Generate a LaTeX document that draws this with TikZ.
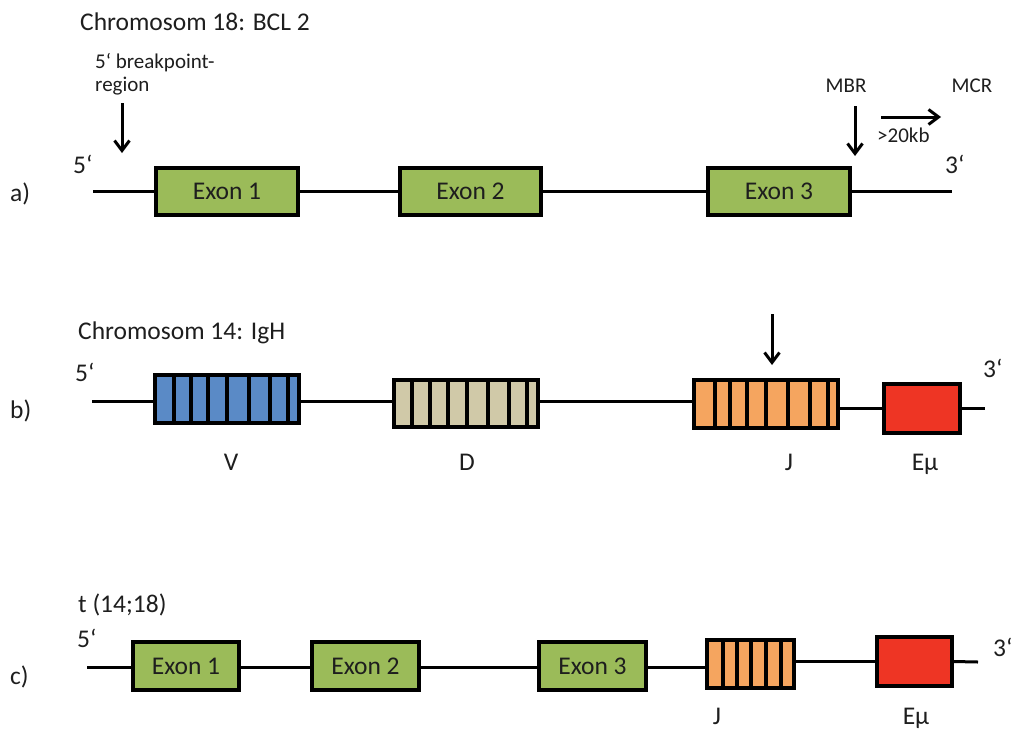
\documentclass[tikz,border=0pt]{standalone}
\usepackage{fontspec}
\setmainfont{Carlito}
\usetikzlibrary{arrows.meta}
\definecolor{exongreen}{HTML}{9BBB59}
\definecolor{vblue}{HTML}{5A8AC6}
\definecolor{dtan}{HTML}{D0C9A8}
\definecolor{jorange}{HTML}{F5A55F}
\definecolor{emred}{HTML}{EE3524}
\definecolor{txt}{HTML}{1E1E1E}
\tikzset{
  box/.style={draw=black, line width=3.4pt, rectangle, inner sep=0pt, font=\fontsize{25.5}{27}\selectfont, text=txt},
  exon/.style={box, fill=exongreen, minimum height=47},
  chrline/.style={line width=3pt, black},
  stripe/.style={line width=3.2pt, black},
  bigtext/.style={font=\fontsize{25.5}{27}\selectfont, text=txt, inner sep=0pt},
  smalltext/.style={font=\fontsize{21}{23}\selectfont, text=txt, inner sep=0pt},
  downarrow/.style={line width=3pt, -{Straight Barb[length=10pt,width=15pt,line width=3pt]}},
}
\begin{document}
\begin{tikzpicture}[x=1pt,y=-1pt]
\useasboundingbox (0,0) rectangle (1014,729);

% ---------- row a ----------
\node[bigtext, anchor=base west] (titleA) at (80,30) {Chromosom 18: BCL 2};
\node[smalltext, anchor=base west] (bp1) at (95,68) {5‘ breakpoint-};
\node[smalltext, anchor=base west] (bp2) at (95,91) {region};
\node[bigtext, anchor=base west] (la) at (10,201) {a)};
\node[bigtext, anchor=base west] (a5) at (73,173) {5‘};
\node[bigtext, anchor=base west] (a3p) at (945,173) {3‘};
\node[smalltext, anchor=base] (mbr) at (846,92) {MBR};
\node[smalltext, anchor=base] (mcr) at (972,92) {MCR};
\node[smalltext, anchor=base west] (kb) at (877,142) {>20kb};

\node[exon, minimum width=142] (a1) at (227,191.5) {Exon 1};
\node[exon, minimum width=141] (a2) at (470.5,191.5) {Exon 2};
\node[exon, minimum width=142] (a3) at (779,191.5) {Exon 3};
\coordinate (aS) at (93,191.5);
\coordinate (aE) at (952,191.5);
\draw[chrline] (aS) -- (a1.west);
\draw[chrline] (a1.east) -- (a2.west);
\draw[chrline] (a2.east) -- (a3.west);
\draw[chrline] (a3.east) -- (aE);

\coordinate (bpTop) at (122,103);
\coordinate (bpTip) at (122,153);
\draw[downarrow] (bpTop) -- (bpTip);
\coordinate (mbrTop) at (855,106);
\coordinate (mbrTip) at (855,156);
\draw[downarrow] (mbrTop) -- (mbrTip);
\coordinate (kbS) at (881,117);
\coordinate (kbE) at (941,117);
\draw[downarrow] (kbS) -- (kbE);

% ---------- row b ----------
\node[bigtext, anchor=base west] (titleB) at (78,339) {Chromosom 14: IgH};
\node[bigtext, anchor=base west] (lb) at (10,418) {b)};
\node[bigtext, anchor=base west] (b5) at (75,381) {5‘};
\node[bigtext, anchor=base west] (b3p) at (983,377) {3‘};

\node[box, fill=vblue, minimum width=144, minimum height=48] (V) at (227,399) {};
\node[box, fill=dtan, minimum width=144, minimum height=47] (D) at (466,403.5) {};
\node[box, fill=jorange, minimum width=144, minimum height=48] (J) at (766,404) {};
\node[box, fill=emred, minimum width=76, minimum height=49] (Em) at (922,408.5) {};
\foreach \x in {174,191,208,227,249,270,288} \draw[stripe] (\x,376) -- (\x,424);
\foreach \x in {412,430,448,467,488,509,527} \draw[stripe] (\x,381) -- (\x,428);
\foreach \x in {715,730,747,766,788,810,828} \draw[stripe] (\x,381) -- (\x,428);
\coordinate (bS) at (92,401);
\coordinate (bE) at (985,408.5);
\draw[chrline] (bS) -- (V.west |- bS);
\draw[chrline] (V.east |- bS) -- (D.west |- bS);
\draw[chrline] (D.east |- bS) -- (J.west |- bS);
\draw[chrline] (J.east |- Em.west) -- (Em.west);
\draw[chrline] (Em.east) -- (bE);

\node[bigtext, anchor=base] (lV) at (231,470) {V};
\node[bigtext, anchor=base] (lD) at (467,470) {D};
\node[bigtext, anchor=base] (lJ) at (789,470) {J};
\node[bigtext, anchor=base] (lEm) at (925,470) {Eµ};

\coordinate (jTop) at (772,314);
\coordinate (jTip) at (772,365);
\draw[downarrow] (jTop) -- (jTip);

% ---------- row c ----------
\node[bigtext, anchor=base west] (titleC) at (78,612) {t (14;18)};
\node[bigtext, anchor=base west] (lc) at (10,684) {c)};
\node[bigtext, anchor=base west] (c5) at (77,647) {5‘};
\node[bigtext, anchor=base west] (c3p) at (993,656) {3‘};

\node[exon, minimum width=106, minimum height=48] (c1) at (186,666) {Exon 1};
\node[exon, minimum width=107, minimum height=48] (c2) at (365.5,666) {Exon 2};
\node[exon, minimum width=107, minimum height=48] (c3) at (592.5,666) {Exon 3};
\node[box, fill=jorange, minimum width=87, minimum height=48] (cJ) at (750.5,664) {};
\node[box, fill=emred, minimum width=75, minimum height=49] (cEm) at (914.5,661.5) {};
\foreach \x in {723,737,751,766,781} \draw[stripe] (\x,641) -- (\x,687);
\coordinate (cS) at (87,667);
\coordinate (cE) at (978,662);
\draw[chrline] (cS) -- (c1.west |- cS);
\draw[chrline] (c1.east |- cS) -- (c2.west |- cS);
\draw[chrline] (c2.east |- cS) -- (c3.west |- cS);
\draw[chrline] (c3.east |- cS) -- (cJ.west |- cS);
\draw[chrline] (cJ.east |- cEm.west) -- (cEm.west);
\draw[chrline] (cEm.east) -- (cE);

\node[bigtext, anchor=base] (clJ) at (717,724) {J};
\node[bigtext, anchor=base] (clEm) at (916,724) {Eµ};
\end{tikzpicture}
\end{document}
